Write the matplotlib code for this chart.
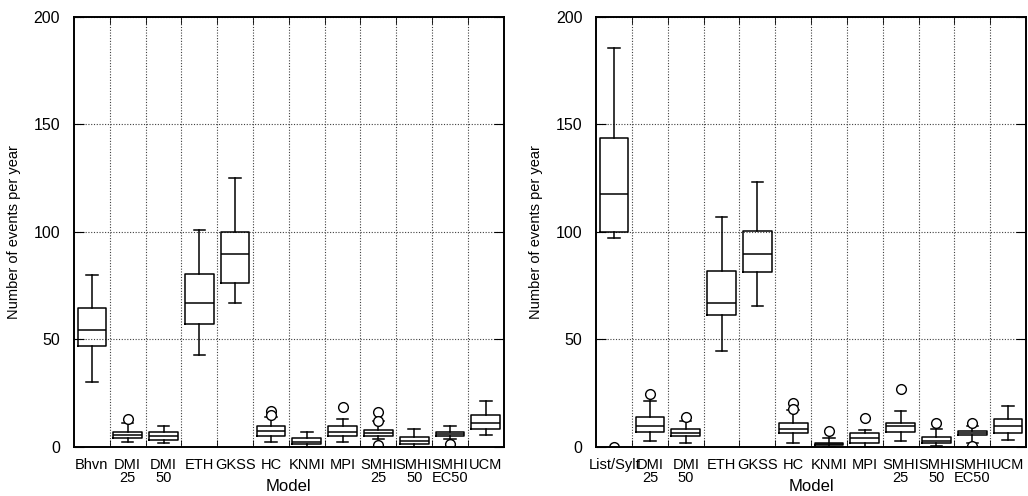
import matplotlib.pyplot as plt

plt.rcParams['font.family'] = ['Liberation Sans', 'DejaVu Sans']

# =========================
# DATA
# =========================
labels_left = ["Bhvn", "DMI\n25", "DMI\n50", "ETH", "GKSS", "HC", "KNMI",
               "MPI", "SMHI\n25", "SMHI\n50", "SMHI\nEC50", "UCM"]
labels_right = ["List/Sylt", "DMI\n25", "DMI\n50", "ETH", "GKSS", "HC", "KNMI",
                "MPI", "SMHI\n25", "SMHI\n50", "SMHI\nEC50", "UCM"]

left_whislo = [30, 2.2, 1.7, 42.6, 67, 2.2, 0, 2.2, 3.6, 0, 3.6, 5.6]
left_q1 = [47, 4.3, 3.3, 57.2, 76, 5.0, 1.2, 5.0, 5.0, 1.2, 5.0, 8.2]
left_med = [54.3, 5.7, 5.1, 66.7, 89.8, 7.3, 2.5, 7.1, 6.4, 2.9, 6.0, 11.3]
left_q3 = [64.8, 7.1, 6.8, 80.5, 99.8, 9.6, 4.0, 9.6, 7.8, 4.5, 7.0, 15.0]
left_whishi = [80, 11.3, 9.9, 101, 125, 14.1, 7.1, 12.9, 11.9, 8.2, 9.5, 21.5]
left_fliers = [[], [13], [], [], [], [16.7, 15.0], [], [18.4],
               [16.1, 12.1, 0.9], [], [1.2], []]

right_whislo = [97, 2.8, 2.0, 44.5, 65.6, 2.0, 0, 0, 2.8, 0.3, 2.0, 3.3]
right_q1 = [99.8, 7.1, 5.0, 61.5, 81.4, 6.4, 0.9, 2.0, 7.1, 1.6, 5.4, 6.4]
right_med = [117.7, 9.5, 6.5, 67, 89.8, 8.2, 1.4, 4.0, 9.5, 2.9, 6.4, 9.6]
right_q3 = [143.6, 13.8, 8.2, 82, 100.5, 11.0, 2.0, 6.4, 11.0, 4.5, 7.3, 12.9]
right_whishi = [185.7, 21.5, 12.1, 107, 123, 17.2, 4.3, 7.8, 16.6, 8.2, 9.5, 18.8]
right_fliers = [[0], [24.5], [14], [], [], [20.5, 17.8], [7.3], [13.3],
                [26.7], [11], [11, 0.6], []]


# =========================
# HELPERS
# =========================
def make_stats(whislo, q1, med, q3, whishi, fliers):
    stats = []
    for i in range(len(med)):
        stats.append({
            "whislo": whislo[i], "q1": q1[i], "med": med[i],
            "q3": q3[i], "whishi": whishi[i], "fliers": fliers[i],
        })
    return stats


def draw_panel(ax, stats, labels):
    pos = [i + 0.5 for i in range(len(labels))]
    ax.bxp(stats, positions=pos, widths=0.8, capwidths=0.32,
           showfliers=True, patch_artist=False,
           boxprops=dict(color="black", linewidth=1.1),
           whiskerprops=dict(color="black", linewidth=1.1),
           capprops=dict(color="black", linewidth=1.1),
           medianprops=dict(color="black", linewidth=1.1),
           flierprops=dict(marker="o", markerfacecolor="white",
                           markeredgecolor="black", markersize=7,
                           markeredgewidth=1.0))
    ax.set_xlim(0, len(labels))
    ax.set_ylim(0, 200)
    ax.set_xticks(pos)
    ax.set_xticklabels(labels, fontsize=10.5, linespacing=0.95)
    ax.set_xticks(range(1, len(labels)), minor=True)
    ax.set_yticks([0, 50, 100, 150, 200])
    ax.tick_params(axis="x", which="major", length=0, pad=8)
    ax.tick_params(axis="x", which="minor", direction="in", length=5,
                   top=True, bottom=True)
    ax.tick_params(axis="y", direction="in", length=7, right=True,
                   labelsize=11.5, pad=10)
    ax.grid(True, axis="y", which="major", color="0.25",
            linestyle=(0, (1, 1.5)), linewidth=0.8)
    ax.grid(True, axis="x", which="minor", color="0.25",
            linestyle=(0, (1, 1.5)), linewidth=0.8)
    ax.set_axisbelow(True)
    for s in ax.spines.values():
        s.set_linewidth(1.4)
    ax.set_xlabel("Model", fontsize=12, labelpad=-5)
    ax.set_ylabel("Number of events per year", fontsize=10.5, labelpad=9)


# =========================
# PLOT
# =========================
fig = plt.figure(figsize=(10.28, 4.96), dpi=100)
ax1 = fig.add_axes([0.072, 0.099, 0.418, 0.867])
ax2 = fig.add_axes([0.580, 0.099, 0.418, 0.867])

draw_panel(ax1, make_stats(left_whislo, left_q1, left_med, left_q3,
                           left_whishi, left_fliers), labels_left)
draw_panel(ax2, make_stats(right_whislo, right_q1, right_med, right_q3,
                           right_whishi, right_fliers), labels_right)

fig.savefig("out.png", dpi=100)
